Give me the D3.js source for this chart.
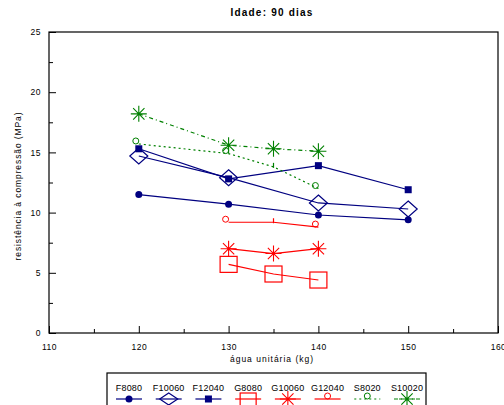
<!DOCTYPE html>
<html>
<head>
<meta charset="utf-8">
<script src="https://cdn.jsdelivr.net/npm/d3@7"></script>
<style>
  body { margin: 0; background: #fff; }
  svg { font-family: "Liberation Sans", Arial, sans-serif; }
  .axis path, .axis line { stroke: #000; }
  .axis text { font-size: 8.5px; fill: #000; letter-spacing: 0.5px; }
</style>
</head>
<body>
<svg id="chart" width="504" height="405"></svg>
<script>
"use strict";

// data
var xTicks = [110, 120, 130, 140, 150, 160];
var yTicks = [0, 5, 10, 15, 20, 25];

var f8080  = [[120, 11.5], [130, 10.7], [140, 9.8], [150, 9.4]];
var f10060 = [[120, 14.7], [130, 12.9], [140, 10.8], [150, 10.3]];
var f12040 = [[120, 15.3], [130, 12.8], [140, 13.9], [150, 11.9]];
var g8080  = [[130, 5.7], [135, 4.9], [140, 4.4]];
var g10060 = [[130, 7.0], [135, 6.6], [140, 7.0]];
var g12040 = [[130, 9.2], [135, 9.2], [140, 8.8]];
var s8020  = [[120, 15.7], [130, 14.9], [135, 13.8], [140, 12.0]];
var s10020 = [[120, 18.2], [130, 15.6], [135, 15.3], [140, 15.1]];

var seriesNames = ['F8080', 'F10060', 'F12040', 'G8080', 'G10060', 'G12040', 'S8020', 'S10020'];

var navy = '#000080', red = '#ff0000', green = '#008000';

var series = [
  { name: 'F8080',  data: f8080,  color: navy,  marker: 'dot',     dash: null },
  { name: 'F10060', data: f10060, color: navy,  marker: 'diamond', dash: null },
  { name: 'F12040', data: f12040, color: navy,  marker: 'fsquare', dash: null },
  { name: 'G8080',  data: g8080,  color: red,   marker: 'osquare', dash: null },
  { name: 'G10060', data: g10060, color: red,   marker: 'star',    dash: null },
  { name: 'G12040', data: g12040, color: red,   marker: 'ocircle', dash: null },
  { name: 'S8020',  data: s8020,  color: green, marker: 'ocircle', dash: '2,3' },
  { name: 'S10020', data: s10020, color: green, marker: 'star',    dash: '4,3,1,3' }
];

var svg = d3.select('#chart');
var margin = { top: 32, right: 6, bottom: 72, left: 49 };
var width = 504 - margin.left - margin.right;
var height = 405 - margin.top - margin.bottom;

var X = d3.scaleLinear().domain([110, 160]).range([0, width]);
var Y = d3.scaleLinear().domain([0, 25]).range([height, 0]);

var plot = svg.append('g')
  .attr('transform', 'translate(' + margin.left + ',' + margin.top + ')');

// frame
plot.append('rect')
  .attr('width', width).attr('height', height)
  .attr('fill', 'none').attr('stroke', '#000').attr('stroke-width', 1.2);

// axes with inward ticks, minor ticks at half steps
var xMinor = d3.axisBottom(X).tickValues(d3.range(115, 160, 10)).tickSize(-4).tickFormat('');
var xaxis = d3.axisBottom(X).tickValues(xTicks).tickSize(-7).tickPadding(11).tickFormat(d3.format('d'));
plot.append('g').attr('class', 'axis x')
  .attr('transform', 'translate(0,' + height + ')').call(xMinor)
  .select('.domain').remove();
plot.append('g').attr('class', 'axis x')
  .attr('transform', 'translate(0,' + height + ')').call(xaxis)
  .select('.domain').remove();

var yMinor = d3.axisLeft(Y).tickValues(d3.range(2.5, 25, 5)).tickSize(-4).tickFormat('');
var yaxis = d3.axisLeft(Y).tickValues(yTicks).tickSize(-7).tickPadding(8);
plot.append('g').attr('class', 'axis y').call(yMinor).select('.domain').remove();
plot.append('g').attr('class', 'axis y').call(yaxis).select('.domain').remove();

// titles
svg.append('text')
  .attr('x', 272).attr('y', 16)
  .attr('text-anchor', 'middle')
  .attr('font-size', '10px').attr('font-weight', 'bold')
  .attr('letter-spacing', '1.2px')
  .text('Idade: 90 dias');

svg.append('text')
  .attr('transform', 'translate(21,186) rotate(-90)')
  .attr('text-anchor', 'middle')
  .attr('font-size', '8.5px')
  .attr('letter-spacing', '0.9px')
  .text('resistência à compressão (MPa)');

svg.append('text')
  .attr('x', 272).attr('y', 362)
  .attr('text-anchor', 'middle')
  .attr('font-size', '8.5px')
  .attr('letter-spacing', '1px')
  .text('água unitária (kg)');

// markers
function drawMarker(g, type, color) {
  if (type === 'dot') {
    g.append('circle').attr('r', 3.5).attr('fill', color);
  } else if (type === 'diamond') {
    g.append('path').attr('d', 'M0,-8L9,0L0,8L-9,0Z')
      .attr('fill', 'none').attr('stroke', color).attr('stroke-width', 1.2);
  } else if (type === 'fsquare') {
    g.append('rect').attr('x', -3.5).attr('y', -3.5).attr('width', 7).attr('height', 7).attr('fill', color);
  } else if (type === 'osquare') {
    g.append('rect').attr('x', -8.5).attr('y', -8).attr('width', 17).attr('height', 16)
      .attr('fill', 'none').attr('stroke', color).attr('stroke-width', 1.2);
  } else if (type === 'ocircle') {
    g.append('circle').attr('r', 3).attr('fill', 'none').attr('stroke', color).attr('stroke-width', 1);
  } else if (type === 'star') {
    var r = 8, p = '';
    for (var i = 0; i < 4; i++) {
      var a = i * Math.PI / 4;
      p += 'M' + (-r * Math.cos(a)) + ',' + (-r * Math.sin(a)) + 'L' + (r * Math.cos(a)) + ',' + (r * Math.sin(a));
    }
    g.append('path').attr('d', p).attr('stroke', color).attr('stroke-width', 1.1).attr('fill', 'none');
  }
}

var line = d3.line().x(function (d) { return X(d[0]); }).y(function (d) { return Y(d[1]); });

series.forEach(function (s) {
  plot.append('path')
    .datum(s.data)
    .attr('d', line)
    .attr('fill', 'none')
    .attr('stroke', s.color)
    .attr('stroke-width', 1.2)
    .attr('stroke-dasharray', s.dash);

  s.data.forEach(function (d) {
    var g = plot.append('g')
      .attr('transform', 'translate(' + X(d[0]) + ',' + Y(d[1]) + ')');
    if (s.marker === 'ocircle' && d[0] === 135) {
      // tiny tick instead of a circle at 135
      g.append('line').attr('y1', -4).attr('y2', 1).attr('stroke', s.color).attr('stroke-width', 1.2);
    } else {
      if (s.marker === 'ocircle') g.attr('transform', 'translate(' + (X(d[0]) - 3) + ',' + (Y(d[1]) - 3) + ')');
      drawMarker(g, s.marker, s.color);
    }
  });
});

// legend
var legend = svg.append('g').attr('transform', 'translate(107,373)');
legend.append('rect')
  .attr('width', 319).attr('height', 40)
  .attr('fill', 'none').attr('stroke', '#000').attr('stroke-width', 1.2);

var LX = d3.scalePoint().domain(seriesNames).range([22, 300]);
series.forEach(function (s) {
  var cx = LX(s.name);
  legend.append('text')
    .attr('x', cx).attr('y', 18)
    .attr('text-anchor', 'middle')
    .attr('font-size', '9px')
    .attr('letter-spacing', '0.2px')
    .text(s.name);
  legend.append('line')
    .attr('x1', cx - 13).attr('x2', cx + 13)
    .attr('y1', 26).attr('y2', 26)
    .attr('stroke', s.color).attr('stroke-width', 1.2)
    .attr('stroke-dasharray', s.dash);
  var g = legend.append('g').attr('transform', 'translate(' + cx + ',' + (s.marker === 'ocircle' ? 23 : 26) + ')');
  var mk = s.marker;
  g.call(function (sel) {
    if (mk === 'osquare') {
      sel.append('rect').attr('x', -8).attr('y', -6).attr('width', 16).attr('height', 14)
        .attr('fill', 'none').attr('stroke', s.color).attr('stroke-width', 1.2);
    } else if (mk === 'diamond') {
      sel.append('path').attr('d', 'M0,-6L9,0L0,6L-9,0Z')
        .attr('fill', 'none').attr('stroke', s.color).attr('stroke-width', 1.2);
    } else {
      drawMarker(sel, mk, s.color);
    }
  });
});
</script>
</body>
</html>
